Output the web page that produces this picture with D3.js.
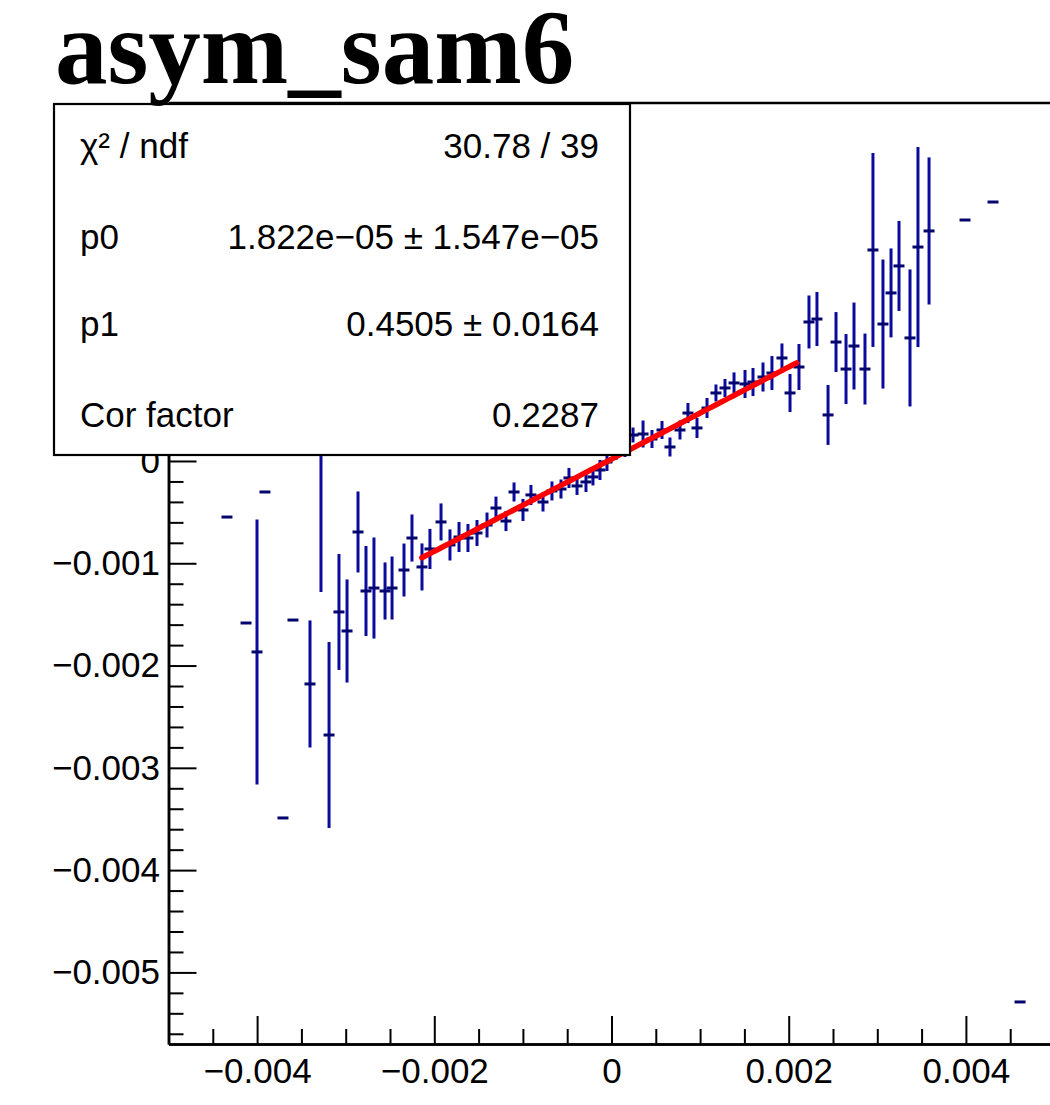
<!DOCTYPE html>
<html>
<head>
<meta charset="utf-8">
<script src="https://cdn.jsdelivr.net/npm/d3@7"></script>
<style>
  html, body { margin: 0; padding: 0; background: #ffffff; }
  svg { display: block; }
</style>
</head>
<body>
<script>
// ---------------- data ----------------
const title = "asym_sam6";

const xValues = [
  -0.004340, -0.004125, -0.004001, -0.003911, -0.003708, -0.003595, -0.003403, -0.003279,
  -0.003188, -0.003076, -0.002985, -0.002861, -0.002771, -0.002681, -0.002556, -0.002477,
  -0.002342, -0.002252, -0.002139, -0.002049, -0.001924, -0.001823, -0.001721, -0.001620,
  -0.001518, -0.001405, -0.001304, -0.001191, -0.001100, -0.000999, -0.000909, -0.000773,
  -0.000672, -0.000570, -0.000480, -0.000389, -0.000288, -0.000209, -0.000130, -0.000051,
   0.000051,  0.000152,  0.000243,  0.000356,  0.000457,  0.000570,  0.000660,  0.000773,
   0.000863,  0.000965,  0.001078,  0.001179,  0.001281,  0.001383,  0.001507,  0.001597,
   0.001710,  0.001811,  0.001924,  0.002015,  0.002116,  0.002229,  0.002319,  0.002444,
   0.002534,  0.002647,  0.002737,  0.002861,  0.002951,  0.003064,  0.003155,  0.003245,
   0.003369,  0.003459,  0.003584,  0.003990,  0.004306,  0.004611
];

const yValues = [
  -0.000548, -0.001584, -0.001867, -0.000303, -0.003490, -0.001555, -0.002180,  0.000401,
  -0.002679, -0.001476, -0.001662, -0.000694, -0.001271, -0.001242, -0.001271, -0.001242,
  -0.001066, -0.000753, -0.001036, -0.000860, -0.000596, -0.000821, -0.000743, -0.000753,
  -0.000704, -0.000626, -0.000460, -0.000587, -0.000303, -0.000479, -0.000332, -0.000401,
  -0.000293, -0.000274, -0.000166, -0.000244, -0.000205, -0.000156, -0.000088, -0.000010,
   0.000088,  0.000127,  0.000254,  0.000264,  0.000215,  0.000303,  0.000137,  0.000303,
   0.000469,  0.000323,  0.000518,  0.000665,  0.000714,  0.000763,  0.000753,  0.000772,
   0.000821,  0.000860,  0.001007,  0.000665,  0.000919,  0.001359,  0.001388,  0.000450,
   0.001163,  0.000899,  0.001124,  0.000899,  0.002063,  0.001339,  0.001643,  0.001907,
   0.001203,  0.002092,  0.002249,  0.002356,  0.002532, -0.005289
];

const yErrors = [
   0,        0,        0.001295, 0,        0,        0,        0.000621, 0.001682,
   0.000909, 0.000567, 0.000504, 0.000396, 0.000440, 0.000494, 0.000279, 0.000308,
   0.000259, 0.000230, 0.000230, 0.000196, 0.000181, 0.000152, 0.000147, 0.000137,
   0.000127, 0.000122, 0.000112, 0.000098, 0.000093, 0.000108, 0.000098, 0.000093,
   0.000093, 0.000093, 0.000098, 0.000088, 0.000098, 0.000083, 0.000098, 0.000088,
   0.000078, 0.000088, 0.000073, 0.000132, 0.000088, 0.000088, 0.000093, 0.000093,
   0.000098, 0.000098, 0.000098, 0.000083, 0.000088, 0.000103, 0.000137, 0.000137,
   0.000142, 0.000166, 0.000142, 0.000186, 0.000225, 0.000259, 0.000264, 0.000293,
   0.000293, 0.000342, 0.000425, 0.000347, 0.000948, 0.000631, 0.000435, 0.000440,
   0.000670, 0.000978, 0.000719, 0,        0,        0
];

const binHalfWidth = 0.000062;

const xDomain = [-0.005, 0.005];
const yDomain = [-0.0057, 0.0035];
const xMajorTicks = [-0.004, -0.002, 0, 0.002, 0.004];
const xTickLabels = ["\u22120.004", "\u22120.002", "0", "0.002", "0.004"];
const yMajorTicks = [-0.005, -0.004, -0.003, -0.002, -0.001, 0, 0.001, 0.002, 0.003];
const yTickLabels = ["\u22120.005", "\u22120.004", "\u22120.003", "\u22120.002", "\u22120.001", "0", "0.001", "0.002", "0.003"];
const xMinorStep = 0.0005;
const yMinorStep = 0.0002;

const fitParams = [1.822e-05, 0.4505];   // p0, p1
const fitRange = [-0.00214, 0.00209];

const statsLabels = ["\u03c7\u00b2 / ndf", "p0", "p1", "Cor factor"];
const statsValues = ["30.78 / 39", "1.822e\u221205 \u00b1 1.547e\u221205", "0.4505 \u00b1 0.0164", "0.2287"];

// ---------------- layout ----------------
const W = 1050, H = 1105;
const frame = { left: 168.5, right: 1054.5, top: 103, bottom: 1044 };

const svg = d3.select("body").append("svg")
  .attr("width", W).attr("height", H)
  .attr("viewBox", `0 0 ${W} ${H}`);

svg.append("rect").attr("width", W).attr("height", H).attr("fill", "#ffffff");

const x = d3.scaleLinear().domain(xDomain).range([frame.left, frame.right]);
const y = d3.scaleLinear().domain(yDomain).range([frame.bottom, frame.top]);

const sansFont = "'Liberation Sans', Arial, Helvetica, sans-serif";

// frame (top and right)
svg.append("path")
  .attr("d", `M${frame.left},${frame.top} H${frame.right} V${frame.bottom}`)
  .attr("fill", "none").attr("stroke", "#000").attr("stroke-width", 2.5);

// ---------------- axes ----------------
const eps = 1e-12;
const xMinor = d3.range(xDomain[0], xDomain[1] + eps, xMinorStep)
  .filter(v => !xMajorTicks.some(m => Math.abs(m - v) < 1e-9));
const yMinor = d3.range(-0.0056, yDomain[1] + eps, yMinorStep)
  .filter(v => !yMajorTicks.some(m => Math.abs(m - v) < 1e-9));

const xAxisMajor = d3.axisBottom(x).tickValues(xMajorTicks)
  .tickSize(-28).tickSizeOuter(0).tickPadding(14)
  .tickFormat((d, i) => xTickLabels[i]);
const xAxisMinor = d3.axisBottom(x).tickValues(xMinor)
  .tickSize(-15).tickSizeOuter(0).tickFormat("");

const yAxisMajor = d3.axisLeft(y).tickValues(yMajorTicks)
  .tickSize(-28).tickSizeOuter(0).tickPadding(8.5)
  .tickFormat((d, i) => yTickLabels[i]);
const yAxisMinor = d3.axisLeft(y).tickValues(yMinor)
  .tickSize(-15).tickSizeOuter(0).tickFormat("");

function styleAxis(g) {
  g.select(".domain").attr("stroke", "#000").attr("stroke-width", 2.5);
  g.selectAll(".tick line").attr("stroke", "#000").attr("stroke-width", 2);
  g.selectAll(".tick text")
    .attr("fill", "#000")
    .style("font-family", sansFont)
    .style("font-size", "35px");
}

svg.append("g").attr("transform", `translate(0,${frame.bottom})`).call(xAxisMinor).call(styleAxis);
svg.append("g").attr("transform", `translate(0,${frame.bottom})`).call(xAxisMajor).call(styleAxis);
svg.append("g").attr("transform", `translate(${frame.left},0)`).call(yAxisMinor).call(styleAxis);
svg.append("g").attr("transform", `translate(${frame.left},0)`).call(yAxisMajor).call(styleAxis);

// ---------------- data points ----------------
const points = xValues.map((xv, i) => ({ x: xv, y: yValues[i], e: yErrors[i] }));

const gData = svg.append("g");
gData.selectAll("line.ev").data(points.filter(d => d.e > 0)).enter().append("line")
  .attr("class", "ev")
  .attr("x1", d => x(d.x)).attr("x2", d => x(d.x))
  .attr("y1", d => y(d.y + d.e)).attr("y2", d => y(d.y - d.e))
  .attr("stroke", "#0a0a9c").attr("stroke-width", 3);

gData.selectAll("line.eh").data(points).enter().append("line")
  .attr("class", "eh")
  .attr("x1", d => x(d.x - binHalfWidth)).attr("x2", d => x(d.x + binHalfWidth))
  .attr("y1", d => y(d.y)).attr("y2", d => y(d.y))
  .attr("stroke", "#05056e").attr("stroke-width", 3);

// ---------------- fit ----------------
const fitXs = d3.range(0, 101).map(i => fitRange[0] + (fitRange[1] - fitRange[0]) * i / 100);
const fitLine = d3.line().x(d => x(d)).y(d => y(fitParams[0] + fitParams[1] * d));
svg.append("path").datum(fitXs)
  .attr("d", fitLine)
  .attr("fill", "none").attr("stroke", "#ff0000").attr("stroke-width", 5.5)
  .attr("stroke-linecap", "round");

// ---------------- stats box ----------------
const box = { x: 54, y: 104, w: 576, h: 351 };
svg.append("rect")
  .attr("x", box.x).attr("y", box.y).attr("width", box.w).attr("height", box.h)
  .attr("fill", "#ffffff").attr("stroke", "#000").attr("stroke-width", 2.2);

const rowBaselines = [158, 248.5, 336, 426.5];
const gStats = svg.append("g").style("font-family", sansFont).style("font-size", "35px").attr("fill", "#000");
statsLabels.forEach((lab, i) => {
  gStats.append("text").attr("x", 80).attr("y", rowBaselines[i]).text(lab);
});
statsValues.forEach((val, i) => {
  gStats.append("text").attr("x", 599).attr("y", rowBaselines[i])
    .attr("text-anchor", "end").text(val);
});

// ---------------- title ----------------
svg.append("text")
  .attr("x", 55).attr("y", 83)
  .style("font-family", "'Liberation Serif', 'Times New Roman', serif")
  .style("font-weight", "bold")
  .style("font-size", "105px")
  .attr("fill", "#000")
  .text(title);
</script>
</body>
</html>
